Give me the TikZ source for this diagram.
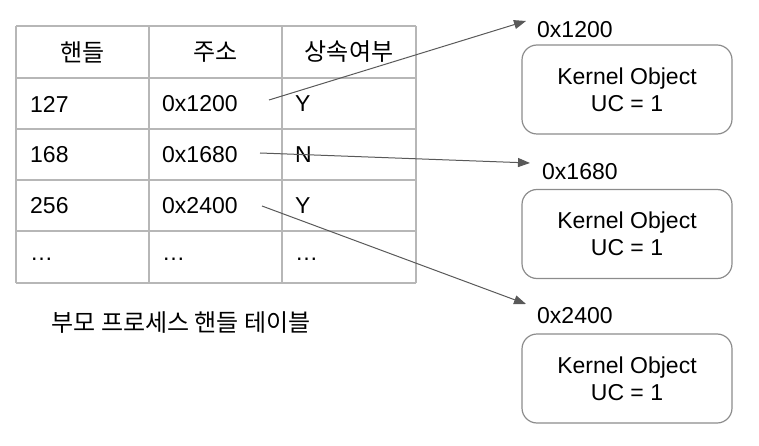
\documentclass[tikz,border=0pt]{standalone}
\usepackage{fontspec}
\setmainfont{Liberation Sans}
\newfontfamily\kor{Noto Sans CJK KR}
\usetikzlibrary{arrows.meta}
\definecolor{gridc}{HTML}{B7B7B7}
\definecolor{boxc}{HTML}{8C8C8C}
\definecolor{arrc}{HTML}{595959}
\begin{document}
\begin{tikzpicture}[x=1pt,y=-1pt,
  txt/.style={inner sep=0pt,font=\fontsize{23}{27}\selectfont},
  hdr/.style={inner sep=0pt,font=\kor\fontsize{24}{28}\selectfont},
  kobj/.style={draw=boxc,line width=1.2pt,rounded corners=15pt,minimum width=210pt,minimum height=89pt,align=center,font=\fontsize{23}{27}\selectfont,inner sep=0pt},
  ptr/.style={draw=arrc,line width=1pt,-{Triangle[length=12pt,width=9pt]}}]
\useasboundingbox (0,0) rectangle (759,446);
% table grid
\foreach \x in {16,149,282,416} \draw[gridc,line width=1.2pt] (\x,26) -- (\x,283);
\foreach \y in {26,78,129,180,231,283} \draw[gridc,line width=1.2pt] (16,\y) -- (416,\y);
% header
\node[hdr] (h1) at (82.5,52) {핸들};
\node[hdr] (h2) at (215.5,52) {주소};
\node[hdr] (h3) at (349,52) {상속여부};
% rows
\node[txt,anchor=west] (a1) at (30,104) {127};
\node[txt,anchor=west] (b1) at (162,104) {0x1200};
\node[txt,anchor=west] (c1) at (295,104) {Y};
\node[txt,anchor=west] (a2) at (30,155) {168};
\node[txt,anchor=west] (b2) at (162,155) {0x1680};
\node[txt,anchor=west] (c2) at (295,155) {N};
\node[txt,anchor=west] (a3) at (30,206) {256};
\node[txt,anchor=west] (b3) at (162,206) {0x2400};
\node[txt,anchor=west] (c3) at (295,206) {Y};
\node[txt,anchor=west] (a4) at (30,259) {\dots};
\node[txt,anchor=west] (b4) at (162,259) {\dots};
\node[txt,anchor=west] (c4) at (295,259) {\dots};
% caption
\node[hdr] (cap) at (181,323) {부모 프로세스 핸들 테이블};
% kernel objects
\node[kobj] (k1) at (627,89.5) {Kernel Object\\UC = 1};
\node[kobj] (k2) at (627,234) {Kernel Object\\UC = 1};
\node[kobj] (k3) at (627,378.5) {Kernel Object\\UC = 1};
\node[txt,anchor=west] (l1) at (537,30) {0x1200};
\node[txt,anchor=west] (l2) at (542,172) {0x1680};
\node[txt,anchor=west] (l3) at (537,316) {0x2400};
% pointers
\coordinate (s1) at (269,100);
\coordinate (s2) at (260,153);
\coordinate (s3) at (262,206);
\coordinate (e1) at (526,21);
\coordinate (e2) at (530,163);
\coordinate (e3) at (526,304);
\draw[ptr] (s1) -- (e1);
\draw[ptr] (s2) -- (e2);
\draw[ptr] (s3) -- (e3);
\end{tikzpicture}
\end{document}
